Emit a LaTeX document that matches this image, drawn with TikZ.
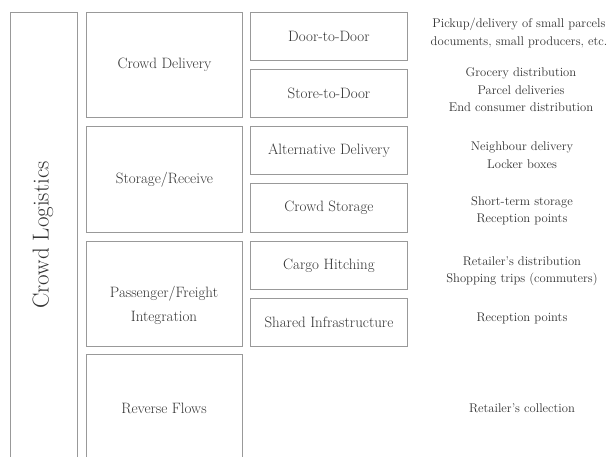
\documentclass[tikz,border=0pt]{standalone}
\usepackage{tikz}
\tikzset{
  box/.style={draw=black!40, line width=0.9pt, anchor=north west, inner sep=0pt, text=black!80, align=center, font=\fontsize{15}{19}\selectfont},
  boxlabel/.style={text=black!80, align=center, inner sep=0pt, font=\fontsize{15}{24}\selectfont},
  note/.style={text=black!80, align=center, font=\fontsize{12.6}{17.5}\selectfont, inner sep=0pt}
}
\begin{document}
\begin{tikzpicture}[x=1pt,y=-1pt]
\useasboundingbox (0,0) rectangle (611,457);
\clip (0,0) rectangle (611,457);
\fill[white] (0,0) rectangle (611,457);
% left column
\node[box, minimum width=67pt, minimum height=470pt] (cl) at (10,12) {};
\node[text=black!80, rotate=90, font=\fontsize{23}{26}\selectfont] (cltext) at (43,235) {Crowd Logistics};
% middle column
\node[box, minimum width=156pt, minimum height=105pt] (cd) at (86,12) {Crowd Delivery};
\node[box, minimum width=156pt, minimum height=106pt] (sr) at (86,126) {Storage/Receive};
\node[box, minimum width=156pt, minimum height=105pt] (pf) at (86,241) {};
\node[boxlabel] (pftext) at (164,305) {Passenger/Freight\\Integration};
\node[box, minimum width=156pt, minimum height=120pt] (rf) at (86,354) {};
\node[boxlabel] (rftext) at (164,408) {Reverse Flows};
% right column
\node[box, minimum width=157pt, minimum height=48pt] (dd) at (250,12) {Door-to-Door};
\node[box, minimum width=157pt, minimum height=48pt] (sd) at (250,69) {Store-to-Door};
\node[box, minimum width=157pt, minimum height=48pt] (ad) at (250,126) {Alternative Delivery};
\node[box, minimum width=157pt, minimum height=49pt] (cs) at (250,183) {Crowd Storage};
\node[box, minimum width=157pt, minimum height=48pt] (ch) at (250,241) {Cargo Hitching};
\node[box, minimum width=157pt, minimum height=48pt] (si) at (250,298) {Shared Infrastructure};
% notes
\node[note] (n1) at (519,33) {Pickup/delivery of small parcels\\documents, small producers, etc.};
\node[note] (n2) at (521,90) {Grocery distribution\\Parcel deliveries\\End consumer distribution};
\node[note] (n3) at (522,155) {Neighbour delivery\\Locker boxes};
\node[note] (n4) at (522,211) {Short-term storage\\Reception points};
\node[note] (n5) at (522,271) {Retailer's distribution\\Shopping trips (commuters)};
\node[note] (n6) at (522,318) {Reception points};
\node[note] (n7) at (522,408) {Retailer's collection};
\end{tikzpicture}
\end{document}
